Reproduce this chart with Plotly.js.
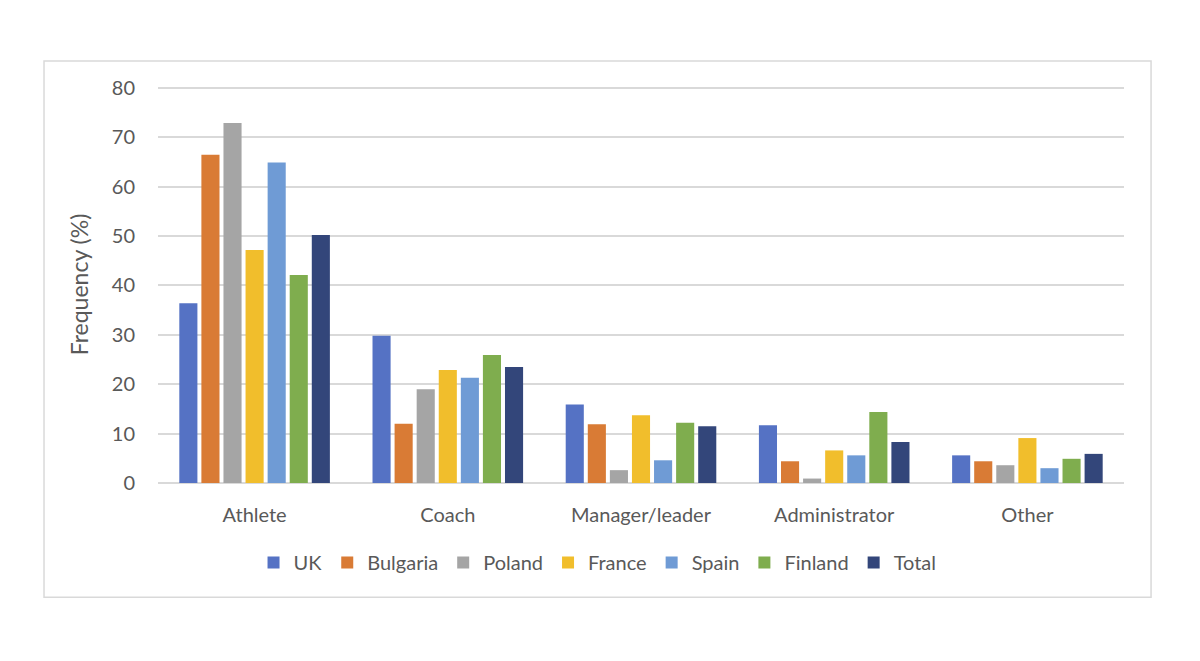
<!DOCTYPE html>
<html>
<head>
<meta charset="utf-8">
<script src="https://cdn.plot.ly/plotly-3.0.1.min.js"></script>
<style>
  body { margin: 0; background: #fff; }
  #chart { width: 1200px; height: 661px; }
</style>
</head>
<body>
<div id="chart"></div>
<script>
var roles = ["Athlete", "Coach", "Manager/leader", "Administrator", "Other"]

var uk = [36.4, 29.8, 15.9, 11.7, 5.6]
var bulgaria = [66.5, 12.0, 11.9, 4.4, 4.4]
var poland = [72.9, 19.0, 2.6, 0.9, 3.6]
var france = [47.2, 22.9, 13.7, 6.6, 9.1]
var spain = [64.9, 21.3, 4.6, 5.6, 3.0]
var finland = [42.1, 25.9, 12.2, 14.4, 4.9]
var total = [50.2, 23.5, 11.5, 8.3, 5.9]

var seriesNames = ["UK", "Bulgaria", "Poland", "France", "Spain", "Finland", "Total"]
var seriesValues = [uk, bulgaria, poland, france, spain, finland, total]
var colors = ["#5572c4", "#d97b35", "#a5a5a5", "#f1be2c", "#6f9bd5", "#7fad4e", "#33467a"]

var data = seriesNames.map(function (name, i) {
  return {
    type: "bar",
    name: name,
    x: roles,
    y: seriesValues[i],
    marker: { color: colors[i] },
    hoverinfo: "x+y+name",
  }
})

var font = "Lato, 'Open Sans', sans-serif"

var layout = {
  width: 1200,
  height: 661,
  margin: { t: 86, r: 76, l: 158, b: 178 },
  paper_bgcolor: "#ffffff",
  plot_bgcolor: "#ffffff",
  font: { family: font, color: "#595959", size: 20 },
  barmode: "group",
  bargap: 0.2,
  bargroupgap: 0.18,
  showlegend: true,
  legend: {
    orientation: "h",
    x: 0.455,
    xanchor: "center",
    y: -0.2,
    yanchor: "middle",
    font: { size: 20, color: "#595959" },
    itemwidth: 30,
    tracegroupgap: 0,
  },
  xaxis: {
    showgrid: false,
    showline: false,
    ticks: "outside",
    ticklen: 14,
    tickcolor: "rgba(0,0,0,0)",
    tickfont: { size: 20, color: "#595959" },
  },
  yaxis: {
    range: [0, 80.4],
    tickvals: [0, 10, 20, 30, 40, 50, 60, 70, 80],
    showgrid: true,
    gridcolor: "#d9d9d9",
    gridwidth: 1.5,
    zeroline: true,
    zerolinecolor: "#d9d9d9",
    zerolinewidth: 1.5,
    ticks: "outside",
    ticklen: 18,
    tickcolor: "rgba(0,0,0,0)",
    tickfont: { size: 20, color: "#595959" },
    title: { text: "Frequency (%)", font: { size: 23, color: "#595959" }, standoff: 16 },
  },
  shapes: [
    {
      type: "rect",
      xref: "paper",
      yref: "paper",
      x0: -0.118,
      x1: 1.028,
      y0: -0.288,
      y1: 1.063,
      line: { color: "#d9d9d9", width: 1.5 },
      layer: "below",
    },
  ],
}

Plotly.newPlot("chart", data, layout, { displayModeBar: false })
</script>
</body>
</html>
